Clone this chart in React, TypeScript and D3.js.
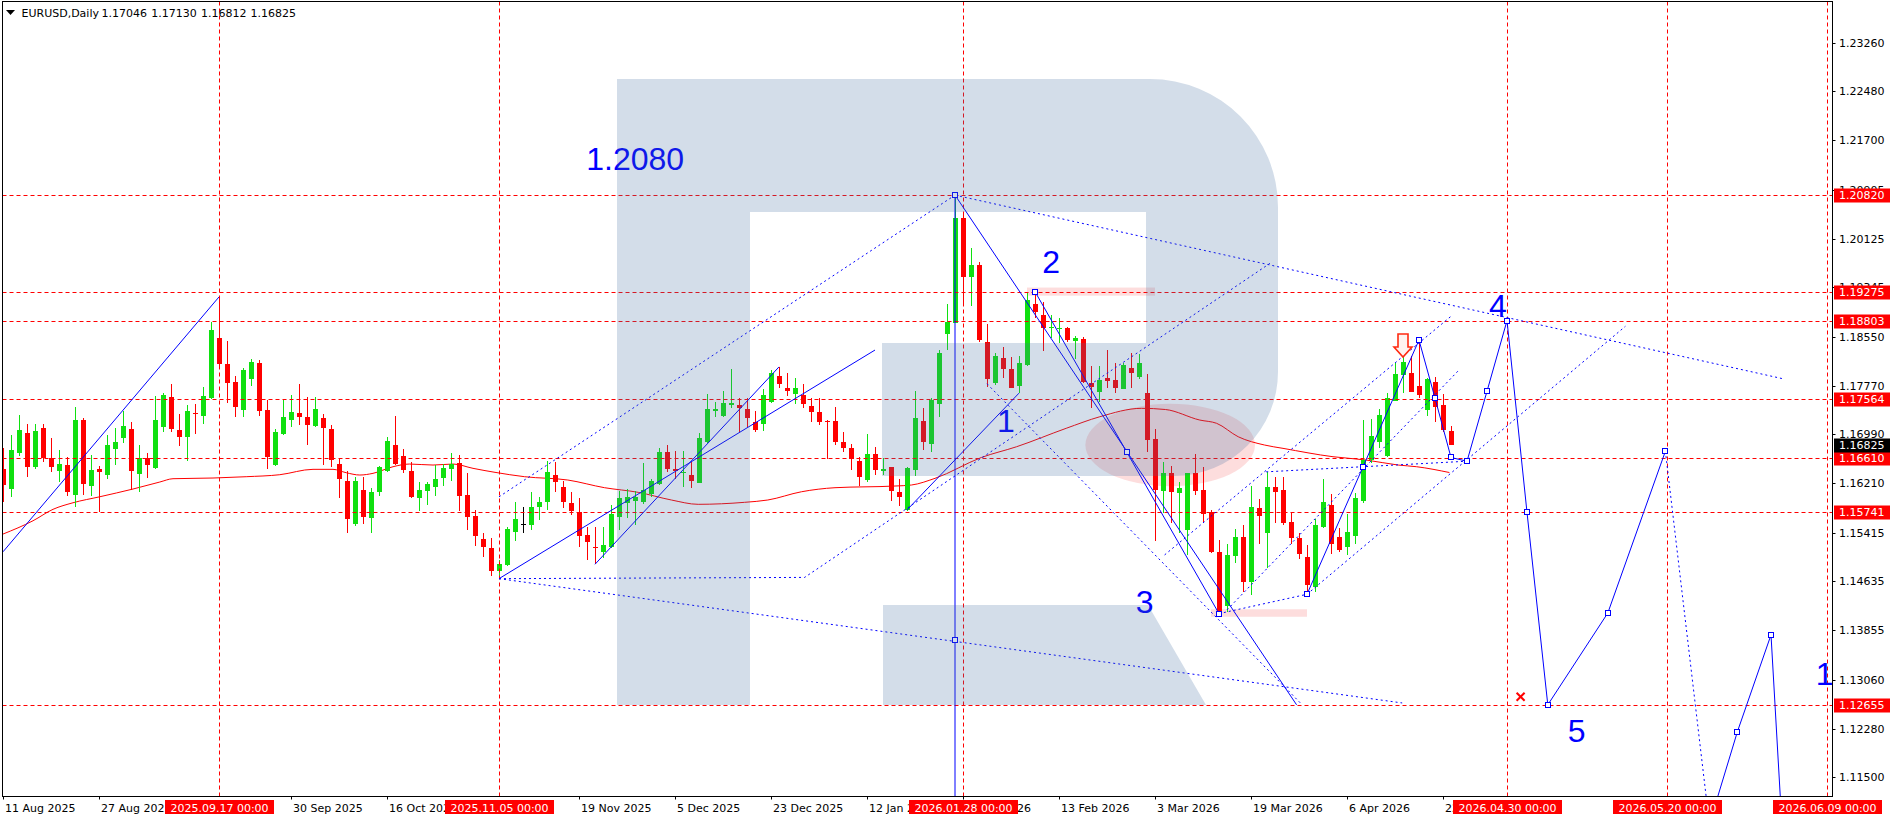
import React from 'react';
import * as d3 from 'd3';

// EURUSD daily bars, index 0 = 11 Aug 2025 ... index 181 = 23 Apr 2026
const opens = [
  1.1643, 1.1612, 1.1669, 1.1701, 1.1647, 1.1709, 1.1661, 1.1640, 1.1650, 1.1602,
  1.1722, 1.1617, 1.1644, 1.1634, 1.1676, 1.1693, 1.1708, 1.1636, 1.1661, 1.1645,
  1.1711, 1.1759, 1.1706, 1.1694, 1.1733, 1.1728, 1.1758, 1.1853, 1.1812, 1.1783,
  1.1738, 1.1788, 1.1813, 1.1738, 1.1650, 1.1700, 1.1722, 1.1733, 1.1727, 1.1712,
  1.1725, 1.1708, 1.1651, 1.1624, 1.1555, 1.1610, 1.1565, 1.1607, 1.1640, 1.1682,
  1.1664, 1.1640, 1.1597, 1.1608, 1.1615, 1.1629, 1.1644, 1.1653, 1.1602, 1.1568,
  1.1531, 1.1517, 1.1481, 1.1490, 1.1543, 1.1556, 1.1554, 1.1582, 1.1591, 1.1634,
  1.1614, 1.1589, 1.1574, 1.1538, 1.1518, 1.1511, 1.1519, 1.1567, 1.1589, 1.1592,
  1.1591, 1.1604, 1.1620, 1.1670, 1.1644, 1.1637, 1.1634, 1.1621, 1.1686, 1.1736,
  1.1729, 1.1746, 1.1746, 1.1740, 1.1719, 1.1715, 1.1751, 1.1792, 1.1773, 1.1764,
  1.1762, 1.1745, 1.1734, 1.1721, 1.1720, 1.1686, 1.1677, 1.1657, 1.1626, 1.1667,
  1.1641, 1.1646, 1.1607, 1.1578, 1.1642, 1.1720, 1.1683, 1.1748, 1.1860, 1.1878,
  1.2046, 1.1951, 1.1970, 1.1847, 1.1782, 1.1822, 1.1803, 1.1777, 1.1810, 1.1908,
  1.1890, 1.1869, 1.1868, 1.1869, 1.1849, 1.1851, 1.1782, 1.1767, 1.1790, 1.1786,
  1.1772, 1.1806, 1.1791, 1.1766, 1.1692, 1.1609, 1.1637, 1.1605, 1.1546, 1.1637,
  1.1610, 1.1574, 1.1511, 1.1424, 1.1505, 1.1534, 1.1463, 1.1581, 1.1541, 1.1615,
  1.1610, 1.1558, 1.1533, 1.1503, 1.1455, 1.1550, 1.1586, 1.1534, 1.1519, 1.1537,
  1.1592, 1.1658, 1.1686, 1.1665, 1.1753, 1.1794, 1.1797, 1.1777, 1.1738, 1.1783,
  1.1746, 1.17046,
];
const highs = [
  1.1677, 1.1698, 1.1730, 1.1716, 1.1716, 1.1716, 1.1693, 1.1674, 1.1663, 1.1743,
  1.1725, 1.1666, 1.1648, 1.1698, 1.1709, 1.1736, 1.1719, 1.1682, 1.1669, 1.1760,
  1.1765, 1.1780, 1.1732, 1.1746, 1.1748, 1.1775, 1.1879, 1.1919, 1.1848, 1.1792,
  1.1805, 1.1820, 1.1818, 1.1754, 1.1708, 1.1756, 1.1762, 1.1780, 1.1759, 1.1759,
  1.1732, 1.1714, 1.1660, 1.1640, 1.1631, 1.1631, 1.1613, 1.1648, 1.1695, 1.1728,
  1.1675, 1.1655, 1.1623, 1.1623, 1.1650, 1.1651, 1.1669, 1.1666, 1.1637, 1.1578,
  1.1541, 1.1533, 1.1498, 1.1551, 1.1590, 1.1582, 1.1606, 1.1598, 1.1656, 1.1654,
  1.1625, 1.1607, 1.1597, 1.1551, 1.1551, 1.1551, 1.1586, 1.1609, 1.1612, 1.1609,
  1.1653, 1.1628, 1.1677, 1.1682, 1.1672, 1.1672, 1.1654, 1.1701, 1.1764, 1.1751,
  1.1768, 1.1804, 1.1758, 1.1757, 1.1737, 1.1772, 1.1802, 1.1807, 1.1797, 1.1789,
  1.1779, 1.1758, 1.1757, 1.1722, 1.1743, 1.1702, 1.1684, 1.1663, 1.1700, 1.1678,
  1.1661, 1.1647, 1.1628, 1.1647, 1.1768, 1.1742, 1.1757, 1.1834, 1.1908, 1.2082,
  1.2050, 1.1997, 1.1975, 1.1876, 1.1830, 1.1839, 1.1823, 1.1825, 1.1926, 1.1928,
  1.1911, 1.1890, 1.1886, 1.1871, 1.1856, 1.1855, 1.1808, 1.1808, 1.1834, 1.1814,
  1.1814, 1.1829, 1.1828, 1.1795, 1.1707, 1.1654, 1.1649, 1.1622, 1.1637, 1.1667,
  1.1646, 1.1578, 1.1530, 1.1524, 1.1547, 1.1554, 1.1616, 1.1595, 1.1639, 1.1630,
  1.1630, 1.1574, 1.1541, 1.1522, 1.1564, 1.1627, 1.1604, 1.1549, 1.1571, 1.1605,
  1.1722, 1.1724, 1.1739, 1.1765, 1.1813, 1.1824, 1.1824, 1.1847, 1.1789, 1.1791,
  1.1763, 1.17130,
];
const lows = [
  1.1590, 1.1598, 1.1665, 1.1630, 1.1644, 1.1655, 1.1638, 1.1622, 1.1601, 1.1582,
  1.1602, 1.1600, 1.1575, 1.1628, 1.1650, 1.1685, 1.1610, 1.1607, 1.1629, 1.1644,
  1.1703, 1.1703, 1.1680, 1.1657, 1.1700, 1.1716, 1.1756, 1.1806, 1.1749, 1.1727,
  1.1726, 1.1776, 1.1728, 1.1644, 1.1648, 1.1698, 1.1711, 1.1714, 1.1682, 1.1711,
  1.1650, 1.1647, 1.1597, 1.1541, 1.1553, 1.1555, 1.1541, 1.1600, 1.1639, 1.1650,
  1.1637, 1.1597, 1.1576, 1.1586, 1.1600, 1.1616, 1.1624, 1.1576, 1.1546, 1.1520,
  1.1503, 1.1472, 1.1468, 1.1489, 1.1529, 1.1541, 1.1546, 1.1562, 1.1578, 1.1606,
  1.1581, 1.1570, 1.1518, 1.1498, 1.1491, 1.1501, 1.1517, 1.1546, 1.1565, 1.1554,
  1.1587, 1.1599, 1.1618, 1.1639, 1.1628, 1.1615, 1.1613, 1.1621, 1.1685, 1.1727,
  1.1726, 1.1742, 1.1703, 1.1711, 1.1702, 1.1705, 1.1750, 1.1773, 1.1761, 1.1748,
  1.1742, 1.1719, 1.1714, 1.1660, 1.1682, 1.1671, 1.1642, 1.1617, 1.1622, 1.1634,
  1.1634, 1.1593, 1.1584, 1.1576, 1.1633, 1.1674, 1.1670, 1.1727, 1.1834, 1.1877,
  1.1909, 1.1905, 1.1847, 1.1775, 1.1778, 1.1789, 1.1774, 1.1765, 1.1809, 1.1886,
  1.1833, 1.1853, 1.1846, 1.1847, 1.1819, 1.1782, 1.1742, 1.1751, 1.1773, 1.1766,
  1.1772, 1.1773, 1.1788, 1.1671, 1.1529, 1.1573, 1.1557, 1.1541, 1.1506, 1.1602,
  1.1559, 1.1509, 1.1412, 1.1415, 1.1493, 1.1447, 1.1442, 1.1524, 1.1485, 1.1557,
  1.1554, 1.1524, 1.1500, 1.1447, 1.1447, 1.1549, 1.1508, 1.1511, 1.1506, 1.1524,
  1.1589, 1.1653, 1.1677, 1.1663, 1.1752, 1.1765, 1.1767, 1.1758, 1.1728, 1.1719,
  1.1702, 1.16812,
];
const closes = [
  1.1618, 1.1674, 1.1706, 1.1647, 1.1704, 1.1661, 1.1646, 1.1652, 1.1606, 1.1722,
  1.1620, 1.1642, 1.1638, 1.1682, 1.1687, 1.1712, 1.1640, 1.1661, 1.1650, 1.1722,
  1.1762, 1.1708, 1.1694, 1.1736, 1.1732, 1.1760, 1.1866, 1.1812, 1.1781, 1.1743,
  1.1802, 1.1815, 1.1736, 1.1663, 1.1703, 1.1727, 1.1735, 1.1727, 1.1714, 1.1739,
  1.1709, 1.1658, 1.1628, 1.1563, 1.1624, 1.1567, 1.1607, 1.1647, 1.1688, 1.1651,
  1.1642, 1.1599, 1.1610, 1.1620, 1.1627, 1.1645, 1.1651, 1.1600, 1.1567, 1.1536,
  1.1519, 1.1480, 1.1492, 1.1547, 1.1563, 1.1556, 1.1582, 1.1590, 1.1638, 1.1622,
  1.1591, 1.1577, 1.1537, 1.1527, 1.1517, 1.1522, 1.1571, 1.1597, 1.1598, 1.1599,
  1.1610, 1.1625, 1.1670, 1.1644, 1.1641, 1.1639, 1.1624, 1.1693, 1.1740, 1.1740,
  1.1750, 1.1749, 1.1741, 1.1725, 1.1706, 1.1762, 1.1797, 1.1780, 1.1769, 1.1774,
  1.1748, 1.1735, 1.1719, 1.1720, 1.1687, 1.1677, 1.1660, 1.1630, 1.1667, 1.1642,
  1.1644, 1.1609, 1.1598, 1.1645, 1.1725, 1.1686, 1.1754, 1.1829, 1.1879, 1.2046,
  1.1951, 1.1970, 1.1850, 1.1788, 1.1824, 1.1803, 1.1774, 1.1814, 1.1914, 1.1895,
  1.1870, 1.1871, 1.1870, 1.1850, 1.1853, 1.1783, 1.1775, 1.1786, 1.1785, 1.1773,
  1.1810, 1.1798, 1.1813, 1.1690, 1.1610, 1.1637, 1.1607, 1.1613, 1.1637, 1.1608,
  1.1571, 1.1510, 1.1415, 1.1506, 1.1534, 1.1463, 1.1582, 1.1569, 1.1615, 1.1607,
  1.1557, 1.1533, 1.1507, 1.1458, 1.1554, 1.1591, 1.1523, 1.1514, 1.1543, 1.1597,
  1.1658, 1.1697, 1.1730, 1.1758, 1.1795, 1.1815, 1.1767, 1.1762, 1.1787, 1.1743,
  1.1706, 1.16825,
];

// moving average, read at sampled bar positions
const maIdx = [0, 3.75, 6.25, 8.75, 12.1, 16.25, 19.6, 21.25, 26.25, 30.4, 34.6, 38.75, 41.25, 42.9, 44.6,
  46.25, 48.75, 50.8, 53.75, 56.25, 58.75, 61.5, 65.2, 70.6, 75.2, 79.4, 83.55, 86.9, 92.7, 95.6, 99.8, 104,
  111.5, 113.55, 116.5, 122.3, 126.7, 132.9, 137.1, 142.3, 145.3, 149.6, 151.7, 154.4, 157.7, 160, 166.25,
  170.4, 174.4, 176.7, 180.8];
const maVal = [1.15394, 1.15607, 1.1579, 1.15895, 1.15991, 1.16115, 1.16227, 1.1628, 1.16291, 1.16312,
  1.16344, 1.1643, 1.1643, 1.16376, 1.16339, 1.16366, 1.16472, 1.16515, 1.16499, 1.16515, 1.16446, 1.16382,
  1.16312, 1.16259, 1.16136, 1.16062, 1.15939, 1.1587, 1.15902, 1.15939, 1.16071, 1.16136, 1.16163, 1.16179,
  1.16286, 1.1662, 1.16792, 1.17087, 1.17272, 1.17407, 1.17388, 1.17219, 1.17167, 1.16952, 1.16819, 1.16766,
  1.16632, 1.16579, 1.16499, 1.16472, 1.16379];

const priceTicks = [1.2326, 1.2248, 1.217, 1.20905, 1.20125, 1.19345, 1.1855, 1.1777, 1.1699, 1.1621,
  1.15415, 1.14635, 1.13855, 1.1306, 1.1228, 1.115];
const levels = [1.2082, 1.19275, 1.18803, 1.17564, 1.1661, 1.15741, 1.12655];

// date labels every 12 bars (the ones under the red time boxes are hidden in the terminal)
const dateTickIdx = [0, 12, 36, 48, 72, 84, 96, 108, 120, 132, 144, 156, 168, 180];
const dateTickText = ['11 Aug 2025', '27 Aug 2025', '30 Sep 2025', '16 Oct 2025', '19 Nov 2025',
  '5 Dec 2025', '23 Dec 2025', '12 Jan 2026', '28 Jan 2026', '13 Feb 2026', '3 Mar 2026',
  '19 Mar 2026', '6 Apr 2026', '22 Apr 2026'];
const markerIdx = [27, 62, 120, 188, 208, 228];
const markerText = ['2025.09.17 00:00', '2025.11.05 00:00', '2026.01.28 00:00', '2026.04.30 00:00',
  '2026.05.20 00:00', '2026.06.09 00:00'];

type P = [number, number];
const solidLines: P[][] = [
  [[0, 1.1511], [27, 1.1919]],
  [[62, 1.1468], [109, 1.1834]],
  [[74, 1.1491], [97, 1.1807]],
  [[113, 1.1578], [127, 1.1765]],
  [[119, 1.2082], [119, 1.09]],
  [[119, 1.2082], [161.7, 1.1266]],
  [[129, 1.19275], [140.5, 1.167], [152, 1.1412]],
  [[163, 1.1443], [170, 1.1647], [177, 1.185], [179, 1.1757], [181, 1.1662], [183, 1.1656], [185.5, 1.1768],
    [188, 1.1881], [190.5, 1.1574], [193.1, 1.1266], [200.6, 1.1413], [207.8, 1.1672]],
  [[213.3, 1.1075], [216.8, 1.1223], [221, 1.1378], [222.9, 1.0954]],
];
const dottedLines: P[][] = [
  [[62, 1.1468], [100.2, 1.147], [158.4, 1.1973]],
  [[62, 1.1599], [119, 1.2082]],
  [[62, 1.1468], [174.9, 1.1269]],
  [[123, 1.178], [162.4, 1.1266]],
  [[119, 1.2082], [222.5, 1.1788]],
  [[145.2, 1.1506], [181, 1.1888]],
  [[153, 1.1418], [182, 1.1802]],
  [[163, 1.1443], [202.8, 1.1872]],
  [[157.9, 1.1639], [183, 1.1656]],
  [[152, 1.1412], [163, 1.1443]],
  [[207.8, 1.1672], [213.3, 1.1075]],
];
const squares: P[] = [[119, 1.2082], [119, 1.137], [129, 1.19275], [140.5, 1.167], [152, 1.1412], [163, 1.1443],
  [170, 1.1647], [177, 1.185], [179, 1.1757], [181, 1.1662], [183, 1.1656], [185.5, 1.1768], [188, 1.1881],
  [190.5, 1.1574], [193.1, 1.1266], [200.6, 1.1413], [207.8, 1.1672], [216.8, 1.1223], [221, 1.1378]];

const waveText = ['1.2080', '1', '2', '3', '4', '5', '1'];
const wavePos: P[] = [[72.9, 1.2122], [124.25, 1.1703], [129.9, 1.1957], [141.6, 1.1413], [185.75, 1.1887],
  [195.6, 1.1206], [226.6, 1.1298]];

// pink highlight zones: [i0, i1, pLow, pHigh]
const zones = [[128, 144, 1.1921, 1.1934], [151, 163, 1.1407, 1.1419]];
const zoneEllipse = [135.3, 156.5, 1.1616, 1.1748];
const arrowAt: P = [175, 1.186];
const crossAt: P = [189.7, 1.1279];

const BULL = '#10e010';
const BEAR = '#ff0000';
const BLUE = '#0000ff';
const AX = 'DejaVu Sans, Verdana, sans-serif';

const L = 2.5, T = 1.5, R = 1832.5, B = 796.5;

export default function App() {
  const x = d3.scaleLinear().domain([0, 228]).range([3, 1827]);
  const y = d3.scaleLinear().domain([1.115, 1.2326]).range([777.3, 42.7]);
  const line = d3.line<P>().x(d => x(d[0])).y(d => y(d[1]));
  const maLine = d3.line<number>().x((_, k) => x(maIdx[k])).y(d => y(d)).curve(d3.curveMonotoneX);
  const last = opens.length - 1;

  // RoboForex "R" watermark
  const logo = 'M617,79 H1150 A128,128 0 0 1 1278,207 V372 A104,104 0 0 1 1174,476 H882 V343 H1146 V212 H750 V705 H617 Z M883,605 H1148 L1206,705 H883 Z';

  const [ax, ap] = arrowAt;
  const axp = Math.round(x(ax)), ayp = Math.round(y(ap));

  return (
    <div style={{ position: 'absolute', left: 0, top: 0 }}>
      <svg width={1896} height={820} style={{ display: 'block', background: '#fff' }}>
        <defs>
          <clipPath id="plot"><rect x={L} y={T} width={R - L} height={B - T} /></clipPath>
        </defs>
        <g clipPath="url(#plot)">
          {/* pink zones */}
          <ellipse cx={(x(zoneEllipse[0]) + x(zoneEllipse[1])) / 2} cy={(y(zoneEllipse[2]) + y(zoneEllipse[3])) / 2}
            rx={(x(zoneEllipse[1]) - x(zoneEllipse[0])) / 2} ry={(y(zoneEllipse[2]) - y(zoneEllipse[3])) / 2}
            fill="#fab4b4" opacity={0.45} />
          {zones.map((z, k) => (
            <rect key={k} x={x(z[0])} y={y(z[3])} width={x(z[1]) - x(z[0])} height={y(z[2]) - y(z[3])}
              fill="#fab4b4" opacity={0.45} />
          ))}

          {/* moving average */}
          <path d={maLine(maVal) || ''} fill="none" stroke="#ff0000" strokeWidth={1} />

          {/* candles */}
          {opens.map((o, i) => {
            const c = closes[i];
            const cx = Math.round(x(i));
            const col = c === o ? '#000' : c > o ? BULL : BEAR;
            const yh = Math.round(y(highs[i])), yl = Math.round(y(lows[i]));
            const yt = Math.round(y(Math.max(o, c))), yb = Math.round(y(Math.min(o, c)));
            return (
              <g key={i}>
                <rect x={cx} y={yh} width={1} height={Math.max(1, yl - yh)} fill={col} />
                <rect x={cx - 2} y={yt} width={5} height={Math.max(1, yb - yt)} fill={col} />
              </g>
            );
          })}

          {/* red level lines */}
          {levels.map(p => (
            <line key={p} x1={L} x2={R} y1={Math.round(y(p)) + 0.5} y2={Math.round(y(p)) + 0.5}
              stroke="#ff0000" strokeDasharray="4,3" />
          ))}
          {markerIdx.map(i => (
            <line key={i} x1={x(i) + 0.5} x2={x(i) + 0.5} y1={T} y2={B} stroke="#ff0000" strokeDasharray="4,3" />
          ))}

          {/* blue studies */}
          {dottedLines.map((pts, k) => (
            <path key={k} d={line(pts) || ''} fill="none" stroke={BLUE} strokeDasharray="2,3" />
          ))}
          {solidLines.map((pts, k) => (
            <path key={k} d={line(pts) || ''} fill="none" stroke={BLUE} />
          ))}
          {squares.map((s, k) => (
            <rect key={k} x={Math.round(x(s[0])) - 2.5} y={Math.round(y(s[1])) - 2.5} width={5} height={5}
              fill="#fff" stroke={BLUE} />
          ))}
          {waveText.map((t, k) => (
            <text key={k} x={x(wavePos[k][0])} y={y(wavePos[k][1])} fill={BLUE}
              fontFamily="Liberation Sans, Arial, sans-serif" fontSize={32}>{t}</text>
          ))}

          <path d={`M${axp - 5},${ayp} H${axp + 5} V${ayp + 13} H${axp + 9} L${axp},${ayp + 23} L${axp - 9},${ayp + 13} H${axp - 5} Z`}
            fill="#fff4f0" stroke="#ff2a10" strokeWidth={1.6} />
          <g stroke="#ff0000" strokeWidth={2}>
            <line x1={x(crossAt[0]) - 4} y1={y(crossAt[1]) - 4} x2={x(crossAt[0]) + 4} y2={y(crossAt[1]) + 4} />
            <line x1={x(crossAt[0]) - 4} y1={y(crossAt[1]) + 4} x2={x(crossAt[0]) + 4} y2={y(crossAt[1]) - 4} />
          </g>

          {/* logo watermark */}
          <path d={logo} fill="#406b9f" opacity={0.23} fillRule="evenodd" />
        </g>

        {/* frame */}
        <rect x={L} y={T} width={R - L} height={B - T} fill="none" stroke="#000" />

        {/* price axis */}
        {priceTicks.map(p => (
          <g key={p}>
            <line x1={R} x2={R + 3} y1={Math.round(y(p)) + 0.5} y2={Math.round(y(p)) + 0.5} stroke="#000" />
            <text x={1839} y={y(p) + 4} fontFamily={AX} fontSize={11} fill="#000">{p.toFixed(5)}</text>
          </g>
        ))}
        {levels.map(p => (
          <g key={p}>
            <rect x={1834} y={Math.round(y(p)) - 6.5} width={56} height={14} fill="#ff0000" />
            <text x={1839} y={y(p) + 4} fontFamily={AX} fontSize={11} fill="#fff">{p.toFixed(5)}</text>
          </g>
        ))}
        <rect x={1834} y={Math.round(y(closes[last])) - 6.5} width={56} height={14} fill="#000" />
        <text x={1839} y={y(closes[last]) + 4} fontFamily={AX} fontSize={11} fill="#fff">
          {closes[last].toFixed(5)}
        </text>

        {/* time axis */}
        {dateTickIdx.map((i, k) => (
          <g key={i}>
            <line x1={x(i) + 0.5} x2={x(i) + 0.5} y1={B} y2={B + 3} stroke="#000" />
            <text x={x(i) + 2} y={811.5} fontFamily={AX} fontSize={11} fill="#000">{dateTickText[k]}</text>
          </g>
        ))}
        {markerIdx.map((i, k) => (
          <g key={i}>
            <rect x={x(i) - 54} y={800} width={109} height={14} fill="#ff0000" />
            <text x={x(i) + 0.5} y={811.5} textAnchor="middle" fontFamily={AX} fontSize={11} fill="#fff">
              {markerText[k]}
            </text>
          </g>
        ))}

        {/* header */}
        <path d="M6,10 H15 L10.5,15 Z" fill="#000" />
        <text x={21.5} y={16.5} fontFamily={AX} fontSize={11} fill="#000">EURUSD,Daily</text>
        {[opens[last], highs[last], lows[last], closes[last]].map((v, k) => (
          <text key={k} x={101.5 + k * 49.7} y={16.5} fontFamily={AX} fontSize={11} fill="#000">{v.toFixed(5)}</text>
        ))}
      </svg>
    </div>
  );
}
